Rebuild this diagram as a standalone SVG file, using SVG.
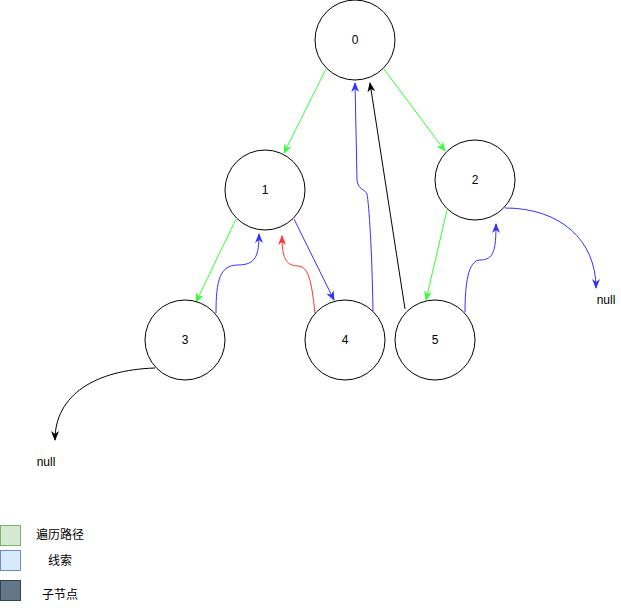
<svg xmlns="http://www.w3.org/2000/svg" width="621" height="611" viewBox="0 0 621 611">
<style>
.node circle{fill:#fff;stroke:#000;stroke-width:1}
text{font-family:"Liberation Sans","Noto Sans CJK SC",sans-serif;font-size:12px;fill:#000;text-anchor:middle;dominant-baseline:central}
.e{fill:none;stroke-width:1}
.g{stroke:#33FF33}
.b{stroke:#3333FF}
.r{stroke:#FF3333}
.k{stroke:#000}
</style>
<defs>
<marker id="ag" viewBox="0 0 10 8" refX="9" refY="4" markerWidth="10" markerHeight="8" markerUnits="userSpaceOnUse" orient="auto"><path d="M0,0 L10,4 L0,8 L3,4 Z" fill="#33FF33"/></marker>
<marker id="ab" viewBox="0 0 10 8" refX="9" refY="4" markerWidth="10" markerHeight="8" markerUnits="userSpaceOnUse" orient="auto"><path d="M0,0 L10,4 L0,8 L3,4 Z" fill="#3333FF"/></marker>
<marker id="ar" viewBox="0 0 10 8" refX="9" refY="4" markerWidth="10" markerHeight="8" markerUnits="userSpaceOnUse" orient="auto"><path d="M0,0 L10,4 L0,8 L3,4 Z" fill="#FF3333"/></marker>
<marker id="ak" viewBox="0 0 10 8" refX="9" refY="4" markerWidth="10" markerHeight="8" markerUnits="userSpaceOnUse" orient="auto"><path d="M0,0 L10,4 L0,8 L3,4 Z" fill="#000"/></marker>
</defs>
<rect width="621" height="611" fill="#fff"/>
<g id="connectors">
<path class="e g" d="M326,69 L284,153" marker-end="url(#ag)"/>
<path class="e g" d="M384,69 L445,151" marker-end="url(#ag)"/>
<path class="e g" d="M236,219 L196,302" marker-end="url(#ag)"/>
<path class="e b" d="M294,219 L334,300" marker-end="url(#ab)"/>
<path class="e g" d="M447,210 L426,300" marker-end="url(#ag)"/>
<path class="e b" d="M216,313 C216,280 220,265 238,265 C256,265 259,255 259,234" marker-end="url(#ab)"/>
<path class="e r" d="M315,313 C312,288 310,266 298,266 C285,266 282,256 282,236" marker-end="url(#ar)"/>
<path class="e b" d="M465,312 C465,285 468,260 480,260 C494,260 496,250 496,224" marker-end="url(#ab)"/>
<path class="e b" d="M373,311 C372,250 369,205 367,194 C365,189 358,190 357,180 L355,83" marker-end="url(#ab)"/>
<path class="e k" d="M405,309 L370,83" marker-end="url(#ak)"/>
<path class="e b" d="M505,208 C560,208 596,240 596,288" marker-end="url(#ab)"/>
<path class="e k" d="M155,368 C95,370 55,395 55,440" marker-end="url(#ak)"/>
</g>
<g id="node0" class="node"><circle cx="355" cy="40" r="40"/><text x="355" y="40">0</text></g>
<g id="node1" class="node"><circle cx="265" cy="190" r="40"/><text x="265" y="190">1</text></g>
<g id="node2" class="node"><circle cx="475" cy="180" r="40"/><text x="475" y="180">2</text></g>
<g id="node3" class="node"><circle cx="185" cy="340" r="40"/><text x="185" y="340">3</text></g>
<g id="node4" class="node"><circle cx="345" cy="340" r="40"/><text x="345" y="340">4</text></g>
<g id="node5" class="node"><circle cx="435" cy="340" r="40"/><text x="435" y="340">5</text></g>
<g id="null1"><text x="606" y="300">null</text></g>
<g id="null2"><text x="46" y="462">null</text></g>
<g id="legend">
<rect x="0.5" y="525.5" width="20" height="20" fill="#d5e8d4" stroke="#82b366"/>
<text x="60" y="535">遍历路径</text>
<rect x="0.5" y="550.5" width="20" height="20" fill="#dae8fc" stroke="#6c8ebf"/>
<text x="60" y="561">线索</text>
<rect x="0.5" y="580.5" width="20" height="20" fill="#647687" stroke="#314354"/>
<text x="60" y="595">子节点</text>
</g>
</svg>
